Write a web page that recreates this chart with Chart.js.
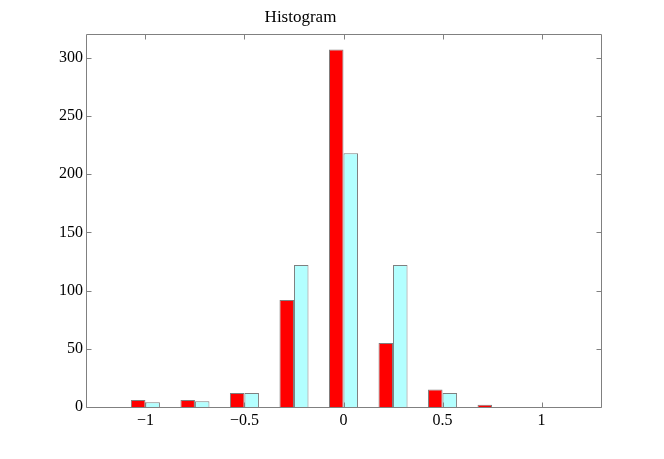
<!DOCTYPE html>
<html>
<head>
<meta charset="utf-8">
<script src="https://cdn.jsdelivr.net/npm/chart.js@4/dist/chart.umd.min.js"></script>
<style>
  html, body { margin: 0; padding: 0; background: #ffffff; }
  canvas { display: block; }
</style>
</head>
<body>
<canvas id="c" width="664" height="459"></canvas>
<script>
const categories = [-1, -0.75, -0.5, -0.25, 0, 0.25, 0.5, 0.75, 1];
const redValues = [6, 6, 12, 92, 307, 55, 15, 2, 0];
const cyanValues = [4, 5, 12, 122, 218, 122, 12, 0, 0];
const xTickValues = [-1, -0.5, 0, 0.5, 1];
const yTickValues = [0, 50, 100, 150, 200, 250, 300];
const titleText = 'Histogram';

const AXIS_COLOR = '#808080';
const FONT = { family: '"Liberation Serif", "Times New Roman", serif', size: 16 };

function fmt(v) {
  return String(v).replace('-', '\u2212');
}

const boxPlugin = {
  id: 'matlabBox',
  afterDatasetsDraw(chart) {
    const ctx = chart.ctx;
    const a = chart.chartArea;
    const L = Math.round(a.left) + 0.5, R = Math.round(a.right) + 0.5;
    const T = Math.round(a.top) + 0.5, B = Math.round(a.bottom) + 0.5;
    const tl = 5;
    ctx.save();
    ctx.strokeStyle = AXIS_COLOR;
    ctx.lineWidth = 1;
    ctx.beginPath();
    ctx.rect(L, T, R - L, B - T);
    const xs = chart.scales.x, ys = chart.scales.y;
    xs.ticks.forEach(t => {
      const px = Math.round(xs.getPixelForValue(t.value)) + 0.5;
      ctx.moveTo(px, B); ctx.lineTo(px, B - tl);
      ctx.moveTo(px, T); ctx.lineTo(px, T + tl);
    });
    ys.ticks.forEach(t => {
      const py = Math.round(ys.getPixelForValue(t.value)) + 0.5;
      ctx.moveTo(L, py); ctx.lineTo(L + tl, py);
      ctx.moveTo(R, py); ctx.lineTo(R - tl, py);
    });
    ctx.stroke();
    ctx.restore();
  }
};

const edgeWidth = c => (c.raw && c.raw.y > 0 ? 1 : 0);

new Chart(document.getElementById('c'), {
  type: 'bar',
  data: {
    datasets: [
      {
        label: 'A',
        data: categories.map((c, i) => ({ x: c, y: redValues[i] })),
        backgroundColor: '#ff0000',
        borderColor: '#7f7f7f',
        borderWidth: edgeWidth,
        borderSkipped: 'bottom'
      },
      {
        label: 'B',
        data: categories.map((c, i) => ({ x: c, y: cyanValues[i] })),
        backgroundColor: '#b3ffff',
        borderColor: '#7f7f7f',
        borderWidth: edgeWidth,
        borderSkipped: 'bottom'
      }
    ]
  },
  options: {
    responsive: false,
    animation: false,
    events: [],
    layout: { padding: { left: 0, right: 63, top: 0, bottom: 0 } },
    datasets: { bar: { barPercentage: 1, categoryPercentage: 0.586, grouped: true } },
    plugins: {
      legend: { display: false },
      tooltip: { enabled: false },
      title: {
        display: true,
        text: titleText,
        color: '#000000',
        font: { family: FONT.family, size: 17, weight: 'normal', lineHeight: 1.2 },
        padding: { top: 7, bottom: 7 }
      }
    },
    scales: {
      x: {
        type: 'linear',
        min: -1.3,
        max: 1.3,
        offset: false,
        grid: { display: false, drawTicks: false },
        border: { display: false },
        afterBuildTicks(scale) { scale.ticks = xTickValues.map(v => ({ value: v })); },
        afterFit(scale) { scale.height = 52; },
        ticks: {
          color: '#000000',
          font: FONT,
          padding: 4,
          maxRotation: 0,
          autoSkip: false,
          callback: v => fmt(v)
        }
      },
      y: {
        type: 'linear',
        min: 0,
        max: 320,
        grid: { display: false, drawTicks: false },
        border: { display: false },
        afterBuildTicks(scale) { scale.ticks = yTickValues.map(v => ({ value: v })); },
        afterFit(scale) { scale.width = 86; },
        ticks: {
          color: '#000000',
          font: FONT,
          padding: 3,
          autoSkip: false,
          callback: v => fmt(v)
        }
      }
    }
  },
  plugins: [boxPlugin]
});
</script>
</body>
</html>
